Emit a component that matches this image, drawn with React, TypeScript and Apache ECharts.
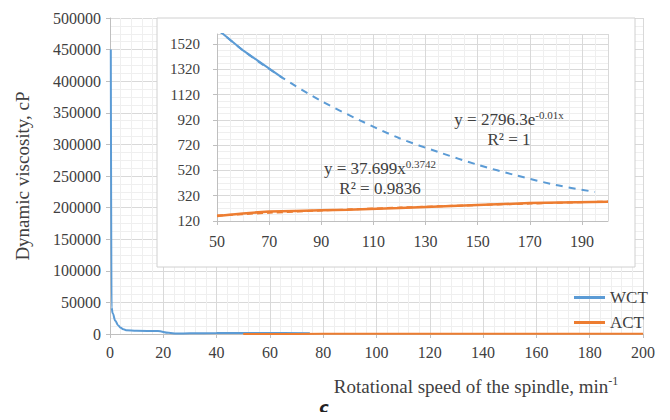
import React, { useEffect, useRef } from "react";
import * as echarts from "echarts";

// Main chart data (rotational speed, min-1 -> dynamic viscosity, cP)
const wctSpeed = [0.3, 0.6, 1, 2, 3, 4, 5, 6, 10, 18, 22, 25, 30, 40, 50, 60, 75];
const wctVisc = [450000, 42000, 33000, 21000, 14000, 10000, 7500, 6000, 5000, 4600, 2000, 700, 1100, 1450, 1640, 1470, 1255];
const actSpeed = [50, 60, 70, 80, 90, 100, 120, 150, 170, 200];
const actVisc = [160, 180, 195, 200, 205, 210, 222, 246, 262, 273];

// Trend lines
const wctTrendSpeed = [50, 60, 75, 90, 105, 120, 135, 150, 165, 180, 195];
const wctTrendVisc = [1640, 1470, 1255, 1070, 915, 775, 665, 565, 480, 405, 350];
const actTrendSpeed = [50, 70, 90, 120, 150, 170, 200];
const actTrendVisc = [163, 185, 203, 226, 246, 258, 274];

const seriesNames = ["WCT", "ACT"];
const xTitle = "Rotational speed of the spindle, min";
const xTitleSup = "-1";
const yTitle = "Dynamic viscosity, cP";
const wctEq = ["y = 2796.3e", "-0.01x"];
const wctR2 = "R² = 1";
const actEq = ["y = 37.699x", "0.3742"];
const actR2 = "R² = 0.9836";
const panelLabel = "c";

const BLUE = "#5b9bd5";
const ORANGE = "#ed7d31";
const FONT = "'Liberation Serif', 'Times New Roman', serif";
const TXT = "#404040";
const GRID = "#d9d9d9";
const MINOR = "#efefef";

const zip = (xs: number[], ys: number[]) => xs.map((x, i) => [x, ys[i]]);

export default function App() {
  const ref = useRef<HTMLDivElement>(null);
  useEffect(() => {
    if (!ref.current) return;
    const chart = echarts.init(ref.current, undefined, { renderer: "svg" });
    const wctInset = zip(wctSpeed, wctVisc).filter((p) => p[0] >= 50);

    const axisCommon = {
      axisLine: { show: true, lineStyle: { color: "#bfbfbf" } },
      axisTick: { show: true, length: 4, lineStyle: { color: "#bfbfbf" } },
      splitLine: { show: true, lineStyle: { color: GRID, width: 1 } },
      minorSplitLine: { show: true, lineStyle: { color: MINOR, width: 1 } },
    };
    const supRich = { sup: { fontSize: 11, fontFamily: FONT, fill: TXT, verticalAlign: "top", lineHeight: 20 } };

    chart.setOption({
      animation: false,
      backgroundColor: "#ffffff",
      textStyle: { fontFamily: FONT },
      grid: [
        { left: 110, top: 18, width: 533, height: 316 },
        { left: 217, top: 34, width: 391, height: 187 },
      ],
      xAxis: [
        {
          gridIndex: 0,
          type: "value",
          min: 0,
          max: 200,
          interval: 20,
          ...axisCommon,
          minorTick: { show: false, splitNumber: 5 },
          axisLabel: { color: TXT, fontSize: 16, fontFamily: FONT, margin: 10 },
        },
        {
          gridIndex: 1,
          type: "value",
          min: 50,
          max: 200,
          interval: 20,
          z: 4,
          ...axisCommon,
          minorTick: { show: false, splitNumber: 4 },
          axisLabel: { color: TXT, fontSize: 16, fontFamily: FONT, margin: 12, showMaxLabel: false },
        },
      ],
      yAxis: [
        {
          gridIndex: 0,
          type: "value",
          min: 0,
          max: 500000,
          interval: 50000,
          ...axisCommon,
          minorTick: { show: false, splitNumber: 4 },
          axisLabel: { color: TXT, fontSize: 16, fontFamily: FONT, margin: 9, formatter: (v: number) => String(v) },
        },
        {
          gridIndex: 1,
          type: "value",
          min: 120,
          max: 1600,
          interval: 200,
          z: 4,
          ...axisCommon,
          minorTick: { show: false, splitNumber: 4 },
          axisLabel: { color: TXT, fontSize: 15, fontFamily: FONT, margin: 17, showMaxLabel: false, formatter: (v: number) => String(v) },
        },
      ],
      legend: {
        orient: "vertical",
        left: 569,
        top: 284,
        itemWidth: 31,
        itemHeight: 3,
        itemGap: 8,
        icon: "rect",
        data: seriesNames,
        textStyle: { color: TXT, fontSize: 17, fontFamily: FONT },
      },
      series: [
        {
          name: seriesNames[0],
          type: "line",
          xAxisIndex: 0,
          yAxisIndex: 0,
          data: zip(wctSpeed, wctVisc),
          smooth: 0.4,
          smoothMonotone: "x",
          symbol: "none",
          lineStyle: { color: BLUE, width: 2 },
          itemStyle: { color: BLUE },
          z: 2,
        },
        {
          name: seriesNames[1],
          type: "line",
          xAxisIndex: 0,
          yAxisIndex: 0,
          data: zip(actSpeed, actVisc),
          symbol: "none",
          lineStyle: { color: ORANGE, width: 2 },
          itemStyle: { color: ORANGE },
          z: 2,
        },
        {
          name: "WCT trend",
          type: "line",
          xAxisIndex: 1,
          yAxisIndex: 1,
          data: zip(wctTrendSpeed, wctTrendVisc),
          smooth: 0.3,
          symbol: "none",
          lineStyle: { color: BLUE, width: 2, type: [7, 6] },
          z: 5,
        },
        {
          name: "ACT trend",
          type: "line",
          xAxisIndex: 1,
          yAxisIndex: 1,
          data: zip(actTrendSpeed, actTrendVisc),
          smooth: 0.3,
          symbol: "none",
          lineStyle: { color: ORANGE, width: 2, type: [6, 4] },
          z: 5,
        },
        {
          name: seriesNames[0] + " ",
          type: "line",
          xAxisIndex: 1,
          yAxisIndex: 1,
          data: wctInset,
          symbol: "none",
          lineStyle: { color: BLUE, width: 2 },
          z: 6,
        },
        {
          name: seriesNames[1] + " ",
          type: "line",
          xAxisIndex: 1,
          yAxisIndex: 1,
          data: zip(actSpeed, actVisc),
          symbol: "none",
          lineStyle: { color: ORANGE, width: 2.5 },
          z: 6,
        },
      ],
      graphic: [
        {
          type: "rect",
          z: 3,
          shape: { x: 157, y: 18, width: 478, height: 249 },
          style: { fill: "#ffffff", stroke: "#d0d0d0", lineWidth: 1 },
        },
        {
          type: "text",
          z: 10,
          x: 22,
          y: 176,
          rotation: Math.PI / 2,
          style: { text: yTitle, fill: TXT, fontSize: 19, fontFamily: FONT, align: "center", verticalAlign: "middle" },
        },
        {
          type: "text",
          z: 10,
          x: 476,
          y: 386,
          style: {
            text: `${xTitle}{sup|${xTitleSup}}`,
            fill: TXT,
            fontSize: 19,
            fontFamily: FONT,
            align: "center",
            verticalAlign: "middle",
            lineHeight: 22,
            rich: { sup: { fontSize: 12, fontFamily: FONT, fill: TXT, verticalAlign: "top", lineHeight: 22 } },
          },
        },
        {
          type: "text",
          z: 10,
          x: 509,
          y: 119,
          style: {
            text: `${wctEq[0]}{sup|${wctEq[1]}}`,
            fill: TXT,
            fontSize: 17,
            fontFamily: FONT,
            align: "center",
            verticalAlign: "middle",
            lineHeight: 20,
            rich: supRich,
          },
        },
        {
          type: "text",
          z: 10,
          x: 509,
          y: 139,
          style: { text: wctR2, fill: TXT, fontSize: 17, fontFamily: FONT, align: "center", verticalAlign: "middle" },
        },
        {
          type: "text",
          z: 10,
          x: 380,
          y: 168,
          style: {
            text: `${actEq[0]}{sup|${actEq[1]}}`,
            fill: TXT,
            fontSize: 17,
            fontFamily: FONT,
            align: "center",
            verticalAlign: "middle",
            lineHeight: 20,
            rich: supRich,
          },
        },
        {
          type: "text",
          z: 10,
          x: 380,
          y: 188,
          style: { text: actR2, fill: TXT, fontSize: 17, fontFamily: FONT, align: "center", verticalAlign: "middle" },
        },
        {
          type: "text",
          z: 10,
          x: 324,
          y: 407,
          style: {
            text: panelLabel,
            fill: "#222222",
            font: `italic bold 16px 'DejaVu Sans', sans-serif`,
            align: "center",
            verticalAlign: "middle",
          },
        },
      ],
    });
    return () => chart.dispose();
  }, []);
  return <div ref={ref} style={{ width: 670, height: 420, margin: -8 }} />;
}
